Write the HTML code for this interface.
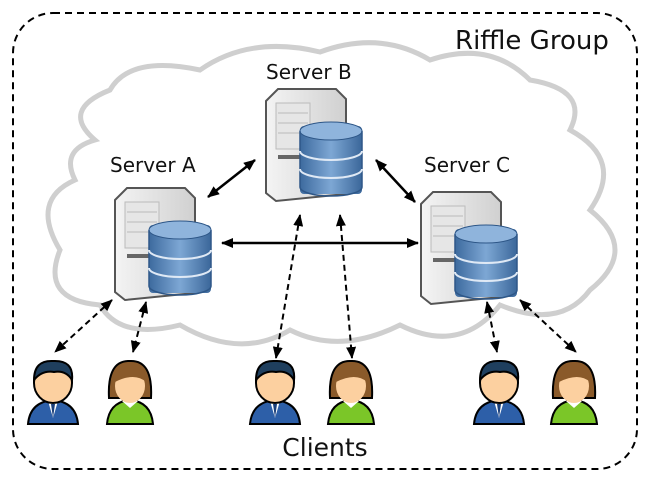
<!DOCTYPE html>
<html><head><style>
html,body{margin:0;padding:0;background:#fff;width:650px;height:480px;overflow:hidden}
svg{display:block}
text{font-family:"DejaVu Sans","Liberation Sans",sans-serif;fill:#111}
</style></head><body>
<svg width="650" height="480" viewBox="0 0 650 480">
<defs>
<linearGradient id="tw" x1="0" x2="1"><stop offset="0" stop-color="#f4f4f4"/><stop offset="1" stop-color="#d0d0d0"/></linearGradient>
<linearGradient id="db" x1="0" x2="1"><stop offset="0" stop-color="#3d6a9e"/><stop offset="0.5" stop-color="#7da7d4"/><stop offset="1" stop-color="#3b679a"/></linearGradient>
<marker id="ah" markerWidth="12" markerHeight="10" refX="11" refY="5" orient="auto-start-reverse" markerUnits="userSpaceOnUse"><path d="M0,0 L12,5 L0,10 z" fill="#000"/></marker>
<g id="srv">
<path d="M0,12 L12,0 L70,0 L80,10 L80,105 L10,112 L0,104 z" fill="url(#tw)" stroke="#555" stroke-width="2"/>
<path d="M10,14 L44,14 L44,60 L10,60 z" fill="#e6e6e6" stroke="#bbb"/>
<line x1="12" y1="24" x2="42" y2="24" stroke="#bbb"/><line x1="12" y1="34" x2="42" y2="34" stroke="#bbb"/><line x1="12" y1="44" x2="42" y2="44" stroke="#bbb"/>
<rect x="12" y="66" width="26" height="4" fill="#666"/>
<rect x="34" y="37" width="62" height="68" rx="4" fill="url(#db)"/>
<ellipse cx="65" cy="42" rx="31" ry="9" fill="#8fb4dc" stroke="#2e5788"/>
<path d="M34,42 L34,98 A31,9 0 0 0 96,98 L96,42" fill="none" stroke="#2e5788" stroke-width="1.5"/>
<path d="M34,62 A31,9 0 0 0 96,62 M34,80 A31,9 0 0 0 96,80" fill="none" stroke="#dfe9f5" stroke-width="2"/>
</g>
<g id="man">
<path d="M2,66 Q4,44 27,42 Q50,44 52,66 z" fill="#2d5fa8" stroke="#000" stroke-width="2"/>
<path d="M22,43 L27,60 L32,43 z" fill="#fff"/><path d="M25,46 L27,60 L29,46 z" fill="#1a3f7a"/>
<ellipse cx="27" cy="25" rx="19" ry="20" fill="#fcd0a0" stroke="#000" stroke-width="2"/>
<path d="M8,22 Q8,2 27,3 Q48,2 46,22 Q40,12 28,14 Q16,12 8,22 z" fill="#1f3f5e" stroke="#000" stroke-width="2"/>
</g>
<g id="wom">
<path d="M2,66 Q4,44 25,42 Q46,44 48,66 z" fill="#7bc628" stroke="#000" stroke-width="2"/>
<path d="M17,43 L25,50 L33,43 z" fill="#fff"/>
<path d="M4,40 Q2,2 25,3 Q48,2 46,40 z" fill="#8a5a2a" stroke="#000" stroke-width="2"/>
<ellipse cx="25" cy="28" rx="15" ry="17" fill="#fcd0a0"/>
<path d="M10,24 Q14,8 30,10 Q40,14 41,24 Q30,14 10,24z" fill="#8a5a2a"/>
</g>
</defs>
<rect x="13" y="13" width="624" height="456" rx="40" fill="none" stroke="#000" stroke-width="2" stroke-dasharray="7,5"/>
<text x="455" y="49" font-size="26">Riffle Group</text>
<path d="M95,140 Q60,110 110,90 Q130,55 200,70 Q250,35 320,52 Q380,30 430,60 Q490,40 530,80 Q590,90 570,130 Q625,160 590,210 Q640,250 590,290 Q560,330 500,305 Q460,355 400,325 Q340,355 290,330 Q240,360 180,325 Q120,340 100,305 Q40,300 60,250 Q30,200 75,180 Q60,150 95,140 z" fill="#fff" stroke="#cfcfcf" stroke-width="5"/>
<text x="110" y="172" font-size="20">Server A</text>
<text x="266" y="79" font-size="20">Server B</text>
<text x="424" y="172" font-size="20">Server C</text>
<use href="#srv" x="115" y="188"/>
<use href="#srv" x="266" y="89"/>
<use href="#srv" x="421" y="192"/>
<g stroke="#000" stroke-width="2.5" marker-start="url(#ah)" marker-end="url(#ah)">
<line x1="208" y1="197" x2="255" y2="160"/>
<line x1="376" y1="160" x2="415" y2="202"/>
<line x1="222" y1="243" x2="418" y2="243"/>
</g>
<g stroke="#000" stroke-width="2" stroke-dasharray="6,4" marker-start="url(#ah)" marker-end="url(#ah)">
<line x1="112" y1="300" x2="55" y2="352"/>
<line x1="146" y1="302" x2="133" y2="352"/>
<line x1="300" y1="215" x2="276" y2="358"/>
<line x1="340" y1="215" x2="352" y2="358"/>
<line x1="487" y1="302" x2="497" y2="352"/>
<line x1="520" y1="300" x2="576" y2="352"/>
</g>
<use href="#man" x="26" y="358"/>
<use href="#wom" x="105" y="358"/>
<use href="#man" x="248" y="358"/>
<use href="#wom" x="326" y="358"/>
<use href="#man" x="472" y="358"/>
<use href="#wom" x="549" y="358"/>
<text x="325" y="456" font-size="25" text-anchor="middle">Clients</text>
</svg>
</body></html>
